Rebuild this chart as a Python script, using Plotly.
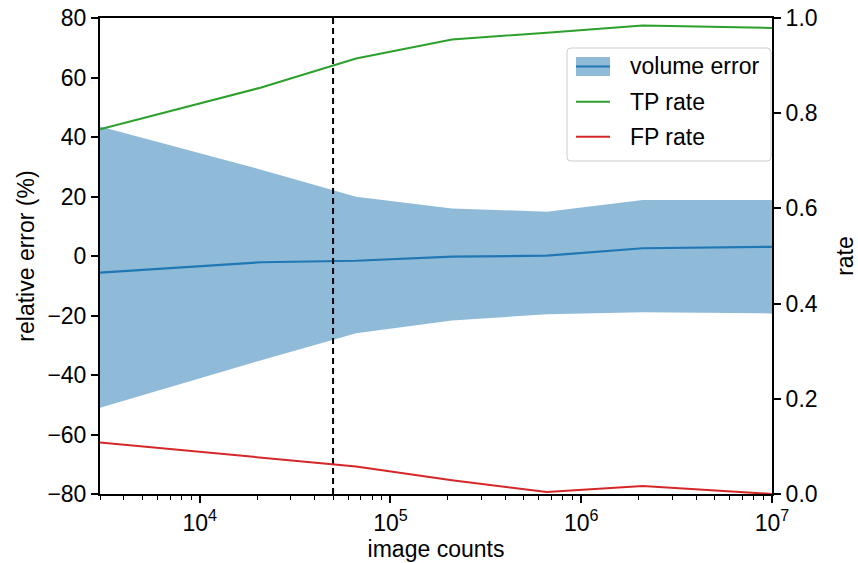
import math
import plotly.graph_objects as go

# Data
image_counts = [3000, 21000, 66000, 210000, 660000, 2100000, 10000000]
err_mean = [-5.6, -2.1, -1.6, -0.2, 0.1, 2.6, 3.1]
err_upper = [43.5, 29.0, 19.9, 16.0, 14.9, 18.8, 18.8]
err_lower = [-51.0, -35.0, -26.0, -21.7, -19.6, -18.9, -19.3]
tp_rate = [0.766, 0.854, 0.915, 0.955, 0.969, 0.984, 0.979]
fp_rate = [0.108, 0.076, 0.058, 0.029, 0.004, 0.017, 0.0]
threshold_count = 5e4

series_names = ["volume error", "TP rate", "FP rate"]
x_tickvals = [1e4, 1e5, 1e6, 1e7]
x_ticktext = ["10<sup>4</sup>", "10<sup>5</sup>", "10<sup>6</sup>", "10<sup>7</sup>"]
left_ticks = [-80, -60, -40, -20, 0, 20, 40, 60, 80]
right_ticks = [0.0, 0.2, 0.4, 0.6, 0.8, 1.0]

BLUE = "#1f77b4"
BAND = "rgba(31,119,180,0.5)"
GREEN = "#2ca02c"
RED = "#d62728"
FONT = "Liberation Sans, Arial, Helvetica, sans-serif"
FS = 23

W, H = 858, 563
ML, MR, MT, MB = 100, 86, 18, 69
PW, PH = W - ML - MR, H - MT - MB


def px(x):
    """pixel column -> paper x"""
    return (x - ML) / PW


def py(y):
    """pixel row -> paper y"""
    return (H - MB - y) / PH


fig = go.Figure()

# error band: upper bound, mean (filled up to the upper bound), lower (filled up to the mean)
fig.add_trace(go.Scatter(x=image_counts, y=err_upper, mode="lines",
                         line=dict(width=0, color=BAND), showlegend=False,
                         hoverinfo="skip"))
fig.add_trace(go.Scatter(x=image_counts, y=err_mean, mode="lines", name=series_names[0],
                         line=dict(color=BLUE, width=2.2), fill="tonexty",
                         fillcolor=BAND, showlegend=False))
fig.add_trace(go.Scatter(x=image_counts, y=err_lower, mode="lines",
                         line=dict(width=0, color=BAND), fill="tonexty",
                         fillcolor=BAND, showlegend=False, hoverinfo="skip"))

# threshold marker
fig.add_trace(go.Scatter(x=[threshold_count, threshold_count], y=[-80, 80], mode="lines",
                         line=dict(color="black", width=2, dash="6px,4px"),
                         showlegend=False, hoverinfo="skip"))

# rates on the secondary axis
fig.add_trace(go.Scatter(x=image_counts, y=tp_rate, mode="lines", name=series_names[1],
                         line=dict(color=GREEN, width=2), yaxis="y2", showlegend=False))
fig.add_trace(go.Scatter(x=image_counts, y=fp_rate, mode="lines", name=series_names[2],
                         line=dict(color=RED, width=2), yaxis="y2", showlegend=False))

# legend box (rounded frame), handles and labels
bx0, bx1, by0, by1, r = 567, 771, 48, 161, 4
frame = (f"M{px(bx0 + r)},{py(by0)} L{px(bx1 - r)},{py(by0)} "
         f"Q{px(bx1)},{py(by0)} {px(bx1)},{py(by0 + r)} L{px(bx1)},{py(by1 - r)} "
         f"Q{px(bx1)},{py(by1)} {px(bx1 - r)},{py(by1)} L{px(bx0 + r)},{py(by1)} "
         f"Q{px(bx0)},{py(by1)} {px(bx0)},{py(by1 - r)} L{px(bx0)},{py(by0 + r)} "
         f"Q{px(bx0)},{py(by0)} {px(bx0 + r)},{py(by0)} Z")
shapes = [dict(type="path", xref="paper", yref="paper", path=frame,
               fillcolor="rgba(255,255,255,0.8)", line=dict(color="#cccccc", width=1),
               layer="above")]
row_y = [66.5, 101.7, 136.7]
hx0, hx1 = 576, 610
shapes.append(dict(type="rect", xref="paper", yref="paper",
                   x0=px(hx0), x1=px(hx1), y0=py(row_y[0] - 9.5), y1=py(row_y[0] + 9.5),
                   fillcolor=BAND, line=dict(width=0), layer="above"))
for yy, col, lw in zip(row_y, [BLUE, GREEN, RED], [2.2, 2, 2]):
    shapes.append(dict(type="line", xref="paper", yref="paper",
                       x0=px(hx0), x1=px(hx1), y0=py(yy), y1=py(yy),
                       line=dict(color=col, width=lw), layer="above"))
annotations = [dict(text=name, xref="paper", yref="paper", x=px(628), y=py(yy),
                    xanchor="left", yanchor="middle", showarrow=False,
                    font=dict(size=FS, color="black", family=FONT))
               for name, yy in zip(series_names, row_y)]

axis_common = dict(ticks="outside", ticklen=7, tickwidth=2, tickcolor="black",
                   showline=True, linewidth=2, linecolor="black",
                   showgrid=False, zeroline=False, automargin=False,
                   tickfont=dict(size=FS))

fig.update_layout(
    width=W, height=H,
    margin=dict(l=ML, r=MR, t=MT, b=MB),
    paper_bgcolor="white", plot_bgcolor="white",
    font=dict(family=FONT, size=FS, color="black"),
    showlegend=False,
    shapes=shapes, annotations=annotations,
    xaxis=dict(type="log", range=[math.log10(3000), 7],
               tickvals=x_tickvals, ticktext=x_ticktext, mirror=True,
               minor=dict(ticks="outside", ticklen=4, tickwidth=1.3, tickcolor="black",
                          dtick="D1", showgrid=False),
               title=dict(text="image counts", font=dict(size=FS), standoff=6),
               **axis_common),
    yaxis=dict(range=[-80, 80], tickvals=left_ticks,
               title=dict(text="relative error (%)", font=dict(size=FS), standoff=6),
               **axis_common),
    yaxis2=dict(range=[0, 1], tickvals=right_ticks, tickformat=".1f",
                overlaying="y", side="right",
                title=dict(text="rate", font=dict(size=FS), standoff=20),
                **axis_common),
)

fig.write_html("out.html")
